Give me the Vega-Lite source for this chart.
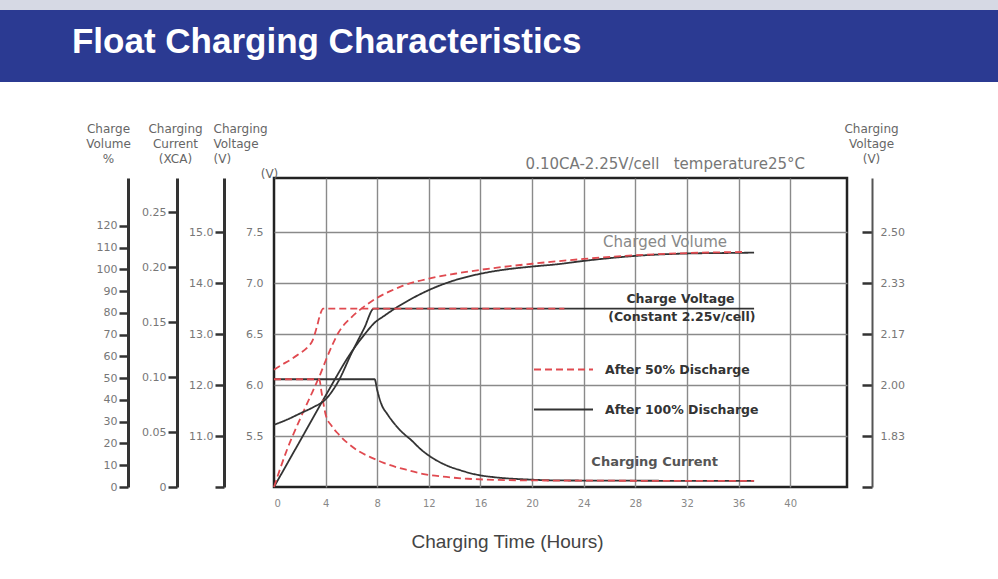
{
  "$schema": "https://vega.github.io/schema/vega-lite/v6.json",
  "background": "#ffffff",
  "padding": 0,
  "spacing": 96,
  "center": true,
  "bounds": "flush",
  "config": {
    "font": "DejaVu Sans",
    "view": {"stroke": null},
    "axis": {"labelFont": "DejaVu Sans", "titleFont": "DejaVu Sans"}
  },
  "datasets": {
    "curves": [
      {"s": "volume", "d": "After 100% Discharge", "t": 0, "v": 0},
      {"s": "volume", "d": "After 100% Discharge", "t": 2, "v": 21},
      {"s": "volume", "d": "After 100% Discharge", "t": 4, "v": 42},
      {"s": "volume", "d": "After 100% Discharge", "t": 6, "v": 62},
      {"s": "volume", "d": "After 100% Discharge", "t": 7, "v": 70},
      {"s": "volume", "d": "After 100% Discharge", "t": 7.8, "v": 75.5},
      {"s": "volume", "d": "After 100% Discharge", "t": 8.5, "v": 78.5},
      {"s": "volume", "d": "After 100% Discharge", "t": 9.5, "v": 82.5},
      {"s": "volume", "d": "After 100% Discharge", "t": 10.5, "v": 86},
      {"s": "volume", "d": "After 100% Discharge", "t": 12, "v": 90.5},
      {"s": "volume", "d": "After 100% Discharge", "t": 14, "v": 95},
      {"s": "volume", "d": "After 100% Discharge", "t": 16, "v": 98},
      {"s": "volume", "d": "After 100% Discharge", "t": 18, "v": 100},
      {"s": "volume", "d": "After 100% Discharge", "t": 20, "v": 101.3},
      {"s": "volume", "d": "After 100% Discharge", "t": 22, "v": 102.4},
      {"s": "volume", "d": "After 100% Discharge", "t": 24, "v": 103.9},
      {"s": "volume", "d": "After 100% Discharge", "t": 28, "v": 106.2},
      {"s": "volume", "d": "After 100% Discharge", "t": 32, "v": 107.3},
      {"s": "volume", "d": "After 100% Discharge", "t": 36, "v": 107.6},
      {"s": "volume", "d": "After 100% Discharge", "t": 37.2, "v": 107.7},
      {"s": "voltage", "d": "After 100% Discharge", "t": 0, "v": 5.61},
      {"s": "voltage", "d": "After 100% Discharge", "t": 1, "v": 5.66},
      {"s": "voltage", "d": "After 100% Discharge", "t": 2, "v": 5.72},
      {"s": "voltage", "d": "After 100% Discharge", "t": 3, "v": 5.78},
      {"s": "voltage", "d": "After 100% Discharge", "t": 4, "v": 5.86},
      {"s": "voltage", "d": "After 100% Discharge", "t": 5, "v": 6.04},
      {"s": "voltage", "d": "After 100% Discharge", "t": 6, "v": 6.31},
      {"s": "voltage", "d": "After 100% Discharge", "t": 7, "v": 6.56},
      {"s": "voltage", "d": "After 100% Discharge", "t": 7.75, "v": 6.75},
      {"s": "voltage", "d": "After 100% Discharge", "t": 37.2, "v": 6.75},
      {"s": "current", "d": "After 100% Discharge", "t": 0, "v": 0.098},
      {"s": "current", "d": "After 100% Discharge", "t": 7.8, "v": 0.098},
      {"s": "current", "d": "After 100% Discharge", "t": 8.0, "v": 0.088},
      {"s": "current", "d": "After 100% Discharge", "t": 8.3, "v": 0.076},
      {"s": "current", "d": "After 100% Discharge", "t": 8.8, "v": 0.066},
      {"s": "current", "d": "After 100% Discharge", "t": 9.3, "v": 0.058},
      {"s": "current", "d": "After 100% Discharge", "t": 10, "v": 0.049},
      {"s": "current", "d": "After 100% Discharge", "t": 10.6, "v": 0.043},
      {"s": "current", "d": "After 100% Discharge", "t": 11.4, "v": 0.034},
      {"s": "current", "d": "After 100% Discharge", "t": 12.2, "v": 0.027},
      {"s": "current", "d": "After 100% Discharge", "t": 13.3, "v": 0.02},
      {"s": "current", "d": "After 100% Discharge", "t": 14.5, "v": 0.015},
      {"s": "current", "d": "After 100% Discharge", "t": 15.8, "v": 0.011},
      {"s": "current", "d": "After 100% Discharge", "t": 17, "v": 0.009},
      {"s": "current", "d": "After 100% Discharge", "t": 19.7, "v": 0.0068},
      {"s": "current", "d": "After 100% Discharge", "t": 22, "v": 0.006},
      {"s": "current", "d": "After 100% Discharge", "t": 26, "v": 0.0058},
      {"s": "current", "d": "After 100% Discharge", "t": 37.2, "v": 0.0055},
      {"s": "volume", "d": "After 50% Discharge", "t": 0, "v": 0},
      {"s": "volume", "d": "After 50% Discharge", "t": 1, "v": 17},
      {"s": "volume", "d": "After 50% Discharge", "t": 2, "v": 31},
      {"s": "volume", "d": "After 50% Discharge", "t": 3, "v": 44},
      {"s": "volume", "d": "After 50% Discharge", "t": 3.6, "v": 52},
      {"s": "volume", "d": "After 50% Discharge", "t": 4, "v": 58},
      {"s": "volume", "d": "After 50% Discharge", "t": 4.5, "v": 65},
      {"s": "volume", "d": "After 50% Discharge", "t": 5, "v": 71},
      {"s": "volume", "d": "After 50% Discharge", "t": 6, "v": 78},
      {"s": "volume", "d": "After 50% Discharge", "t": 7, "v": 83},
      {"s": "volume", "d": "After 50% Discharge", "t": 8, "v": 87},
      {"s": "volume", "d": "After 50% Discharge", "t": 9, "v": 90},
      {"s": "volume", "d": "After 50% Discharge", "t": 10, "v": 92.5},
      {"s": "volume", "d": "After 50% Discharge", "t": 12, "v": 95.8},
      {"s": "volume", "d": "After 50% Discharge", "t": 14, "v": 98},
      {"s": "volume", "d": "After 50% Discharge", "t": 16, "v": 99.8},
      {"s": "volume", "d": "After 50% Discharge", "t": 20, "v": 102.6},
      {"s": "volume", "d": "After 50% Discharge", "t": 24, "v": 104.8},
      {"s": "volume", "d": "After 50% Discharge", "t": 28, "v": 106.5},
      {"s": "volume", "d": "After 50% Discharge", "t": 32, "v": 107.5},
      {"s": "volume", "d": "After 50% Discharge", "t": 36.4, "v": 108},
      {"s": "voltage", "d": "After 50% Discharge", "t": 0, "v": 6.15},
      {"s": "voltage", "d": "After 50% Discharge", "t": 0.5, "v": 6.19},
      {"s": "voltage", "d": "After 50% Discharge", "t": 1.3, "v": 6.25},
      {"s": "voltage", "d": "After 50% Discharge", "t": 2, "v": 6.31},
      {"s": "voltage", "d": "After 50% Discharge", "t": 2.6, "v": 6.37},
      {"s": "voltage", "d": "After 50% Discharge", "t": 3, "v": 6.44},
      {"s": "voltage", "d": "After 50% Discharge", "t": 3.3, "v": 6.56},
      {"s": "voltage", "d": "After 50% Discharge", "t": 3.6, "v": 6.7},
      {"s": "voltage", "d": "After 50% Discharge", "t": 3.8, "v": 6.75},
      {"s": "voltage", "d": "After 50% Discharge", "t": 22.5, "v": 6.75},
      {"s": "current", "d": "After 50% Discharge", "t": 0, "v": 0.098},
      {"s": "current", "d": "After 50% Discharge", "t": 3.5, "v": 0.098},
      {"s": "current", "d": "After 50% Discharge", "t": 3.7, "v": 0.085},
      {"s": "current", "d": "After 50% Discharge", "t": 4.0, "v": 0.066},
      {"s": "current", "d": "After 50% Discharge", "t": 4.5, "v": 0.055},
      {"s": "current", "d": "After 50% Discharge", "t": 5.0, "v": 0.048},
      {"s": "current", "d": "After 50% Discharge", "t": 5.7, "v": 0.04},
      {"s": "current", "d": "After 50% Discharge", "t": 6.5, "v": 0.033},
      {"s": "current", "d": "After 50% Discharge", "t": 7.5, "v": 0.027},
      {"s": "current", "d": "After 50% Discharge", "t": 8.5, "v": 0.022},
      {"s": "current", "d": "After 50% Discharge", "t": 9.5, "v": 0.018},
      {"s": "current", "d": "After 50% Discharge", "t": 10.5, "v": 0.015},
      {"s": "current", "d": "After 50% Discharge", "t": 11.5, "v": 0.012},
      {"s": "current", "d": "After 50% Discharge", "t": 13, "v": 0.0095},
      {"s": "current", "d": "After 50% Discharge", "t": 15, "v": 0.0075},
      {"s": "current", "d": "After 50% Discharge", "t": 17, "v": 0.0065},
      {"s": "current", "d": "After 50% Discharge", "t": 20, "v": 0.006},
      {"s": "current", "d": "After 50% Discharge", "t": 24, "v": 0.0058},
      {"s": "current", "d": "After 50% Discharge", "t": 37.2, "v": 0.0055}
    ],
    "notes": [
      {"s": "volume", "label": "Charged Volume", "t": 30.3, "v": 112.6},
      {"s": "current", "label": "Charging Current", "t": 29.5, "v": 0.0227},
      {"s": "cv", "label": "Charge Voltage", "t": 31.5, "v": 6.843},
      {"s": "cc", "label": "(Constant 2.25v/cell)", "t": 31.6, "v": 6.667}
    ]
  },
  "vconcat": [
    {
      "width": 1121,
      "height": 82,
      "view": {
        "stroke": null,
        "fill": {
          "gradient": "linear", "x1": 0, "y1": 0, "x2": 0, "y2": 1,
          "stops": [
            {"offset": 0, "color": "#d6d9e4"},
            {"offset": 0.12, "color": "#d6d9e4"},
            {"offset": 0.125, "color": "#2b3a92"},
            {"offset": 1, "color": "#2b3a92"}
          ]
        }
      },
      "data": {"values": [{"heading": "Float Charging Characteristics"}]},
      "mark": {"type": "text", "font": "Liberation Sans", "fontSize": 35, "fontWeight": "bold", "color": "#ffffff", "align": "left", "baseline": "alphabetic"},
      "encoding": {
        "x": {"datum": 0.0642, "type": "quantitative", "scale": {"domain": [0, 1]}, "axis": null},
        "y": {"datum": 0.354, "type": "quantitative", "scale": {"domain": [0, 1]}, "axis": null},
        "text": {"field": "heading"}
      }
    },
    {
      "width": 573,
      "height": 309,
      "view": {"stroke": "#222222", "strokeWidth": 2.5},
      "title": {"text": "0.10CA-2.25V/cell\u00a0\u00a0\u00a0temperature25°C", "anchor": "end", "frame": "group", "font": "DejaVu Sans", "fontSize": 15, "fontWeight": "normal", "color": "#777777", "offset": -50, "dx": -42},
      "encoding": {
        "x": {
          "field": "t", "type": "quantitative",
          "scale": {"domain": [0, 44.4], "nice": false, "zero": false},
          "axis": {
            "values": [0, 4, 8, 12, 16, 20, 24, 28, 32, 36, 40],
            "grid": true,
            "gridColor": {"condition": {"test": "datum.value === 0", "value": "transparent"}, "value": "#8a8a8a"},
            "gridWidth": 1.4,
            "ticks": false, "domain": false,
            "labelFontSize": 10, "labelColor": "#888888", "labelPadding": 11,
            "title": "Charging Time (Hours)",
            "titleFont": "Liberation Sans", "titleFontSize": 19, "titleFontWeight": "normal", "titleColor": "#444444",
            "titleX": 233, "titleY": 54, "titleAlign": "center", "titleBaseline": "middle"
          }
        }
      },
      "layer": [
        {
          "encoding": {
            "y": {
              "field": "v", "type": "quantitative",
              "scale": {"domain": [0, 142], "nice": false, "zero": false},
              "axis": {
                "orient": "left", "offset": 146,
                "values": [0, 10, 20, 30, 40, 50, 60, 70, 80, 90, 100, 110, 120],
                "grid": false, "domainColor": "#333333", "domainWidth": 3,
                "tickColor": "#333333", "tickWidth": 2.5, "tickSize": 9,
                "labelFontSize": 11, "labelColor": "#777777", "labelPadding": 2,
                "title": ["Charge", "Volume", "", "%"],
                "titleAngle": 0, "titleAlign": "center", "titleBaseline": "top",
                "titleX": -20, "titleY": -55, "titleFontSize": 12, "titleFontWeight": "normal",
                "titleColor": "#666666", "titleLineHeight": 15
              }
            }
          },
          "layer": [
            {
              "data": {"name": "curves"},
              "transform": [{"filter": "datum.s === 'volume'"}],
              "mark": {"type": "line", "strokeWidth": 1.8, "interpolate": "monotone"},
              "encoding": {
                "color": {"field": "d", "type": "nominal", "scale": {"domain": ["After 50% Discharge", "After 100% Discharge"], "range": ["#e04a50", "#333333"]},
                  "legend": {"orient": "none", "legendX": 533, "legendY": 339, "title": null, "padding": 0, "symbolType": "stroke", "symbolSize": 3481, "symbolStrokeWidth": 2, "labelFont": "DejaVu Sans", "labelFontSize": 12.5, "labelFontWeight": "bold", "labelColor": "#333333", "labelOffset": 11, "rowPadding": 3}},
                "strokeDash": {"field": "d", "type": "nominal", "scale": {"domain": ["After 50% Discharge", "After 100% Discharge"], "range": [[7, 4], [1, 0]]},
                  "legend": {"orient": "none", "legendX": 533, "legendY": 339, "title": null, "padding": 0, "symbolType": "stroke", "symbolSize": 3481, "symbolStrokeWidth": 2, "labelFont": "DejaVu Sans", "labelFontSize": 12.5, "labelFontWeight": "bold", "labelColor": "#333333", "labelOffset": 11, "rowPadding": 3}}
              }
            },
            {
              "data": {"name": "notes"},
              "transform": [{"filter": "datum.s === 'volume'"}],
              "mark": {"type": "text", "fontSize": 15, "color": "#888888", "align": "center", "baseline": "middle"},
              "encoding": {"text": {"field": "label"}}
            }
          ]
        },
        {
          "encoding": {
            "y": {
              "field": "v", "type": "quantitative",
              "scale": {"domain": [0, 0.281], "nice": false, "zero": false},
              "axis": {
                "orient": "left", "offset": 97,
                "values": [0, 0.05, 0.1, 0.15, 0.2, 0.25],
                "labelExpr": "datum.value == 0 ? '0' : format(datum.value, '.2f')",
                "grid": false, "domainColor": "#333333", "domainWidth": 3,
                "tickColor": "#333333", "tickWidth": 2.5, "tickSize": 9,
                "labelFontSize": 11, "labelColor": "#777777", "labelPadding": 2,
                "title": ["Charging", "Current", "", "(XCA)"],
                "titleAngle": 0, "titleAlign": "center", "titleBaseline": "top",
                "titleX": -2, "titleY": -55, "titleFontSize": 12, "titleFontWeight": "normal",
                "titleColor": "#666666", "titleLineHeight": 15
              }
            }
          },
          "layer": [
            {
              "data": {"name": "curves"},
              "transform": [{"filter": "datum.s === 'current'"}],
              "mark": {"type": "line", "strokeWidth": 1.8, "interpolate": "monotone"},
              "encoding": {
                "color": {"field": "d", "type": "nominal", "scale": {"domain": ["After 50% Discharge", "After 100% Discharge"], "range": ["#e04a50", "#333333"]}},
                "strokeDash": {"field": "d", "type": "nominal", "scale": {"domain": ["After 50% Discharge", "After 100% Discharge"], "range": [[7, 4], [1, 0]]}}
              }
            },
            {
              "data": {"name": "notes"},
              "transform": [{"filter": "datum.s === 'current'"}],
              "mark": {"type": "text", "fontSize": 13, "fontWeight": "bold", "color": "#555555", "align": "center", "baseline": "middle"},
              "encoding": {"text": {"field": "label"}}
            }
          ]
        },
        {
          "data": {"name": "curves"},
          "transform": [{"filter": "datum.s === 'voltage'"}],
          "mark": {"type": "line", "strokeWidth": 1.8, "interpolate": "monotone"},
          "encoding": {
            "y": {
              "field": "v", "type": "quantitative",
              "scale": {"domain": [5, 8.03], "nice": false, "zero": false},
              "axis": {
                "orient": "left", "offset": 0,
                "values": [5.5, 6, 6.5, 7, 7.5], "format": ".1f",
                "grid": true, "gridColor": "#8a8a8a", "gridWidth": 1.4,
                "domain": false, "ticks": false,
                "labelFontSize": 11, "labelColor": "#777777", "labelPadding": 11,
                "title": "(V)",
                "titleAngle": 0, "titleAlign": "center", "titleBaseline": "top",
                "titleX": -5, "titleY": -10, "titleFontSize": 12, "titleFontWeight": "normal",
                "titleColor": "#666666"
              }
            },
            "color": {"field": "d", "type": "nominal", "scale": {"domain": ["After 50% Discharge", "After 100% Discharge"], "range": ["#e04a50", "#333333"]}},
            "strokeDash": {"field": "d", "type": "nominal", "scale": {"domain": ["After 50% Discharge", "After 100% Discharge"], "range": [[7, 4], [1, 0]]}}
          }
        },
        {
          "data": {"name": "notes"},
          "transform": [{"filter": "datum.s === 'cv'"}],
          "mark": {"type": "text", "fontSize": 12.5, "fontWeight": "bold", "color": "#333333", "align": "center", "baseline": "middle"},
          "encoding": {
            "y": {
              "field": "v", "type": "quantitative",
              "scale": {"domain": [5, 8.03], "nice": false, "zero": false},
              "axis": {
                "orient": "left", "offset": 50,
                "values": [5, 5.5, 6, 6.5, 7, 7.5],
                "labelExpr": "datum.value == 5 ? '' : format(datum.value * 2, '.1f')",
                "grid": false, "domainColor": "#333333", "domainWidth": 3,
                "tickColor": "#333333", "tickWidth": 2.5, "tickSize": 9,
                "labelFontSize": 11, "labelColor": "#777777", "labelPadding": 2,
                "title": ["Charging", "Voltage", "", "(V)"],
                "titleAngle": 0, "titleAlign": "left", "titleBaseline": "top",
                "titleX": -11, "titleY": -55, "titleFontSize": 12, "titleFontWeight": "normal",
                "titleColor": "#666666", "titleLineHeight": 15
              }
            },
            "text": {"field": "label"}
          }
        },
        {
          "data": {"name": "notes"},
          "transform": [{"filter": "datum.s === 'cc'"}],
          "mark": {"type": "text", "fontSize": 12.5, "fontWeight": "bold", "color": "#333333", "align": "center", "baseline": "middle"},
          "encoding": {
            "y": {
              "field": "v", "type": "quantitative",
              "scale": {"domain": [5, 8.03], "nice": false, "zero": false},
              "axis": {
                "orient": "right", "offset": 25,
                "values": [5, 5.5, 6, 6.5, 7, 7.5],
                "labelExpr": "datum.value == 5 ? '' : format(datum.value / 3, '.2f')",
                "grid": false, "domainColor": "#555555", "domainWidth": 2,
                "tickColor": "#333333", "tickWidth": 2.5, "tickSize": -10,
                "labelFontSize": 11, "labelColor": "#777777", "labelPadding": 18,
                "title": ["Charging", "Voltage", "", "(V)"],
                "titleAngle": 0, "titleAlign": "center", "titleBaseline": "top",
                "titleX": -1, "titleY": -55, "titleFontSize": 12, "titleFontWeight": "normal",
                "titleColor": "#666666", "titleLineHeight": 15
              }
            },
            "text": {"field": "label"}
          }
        }
      ],
      "resolve": {"scale": {"y": "independent"}}
    }
  ]
}
